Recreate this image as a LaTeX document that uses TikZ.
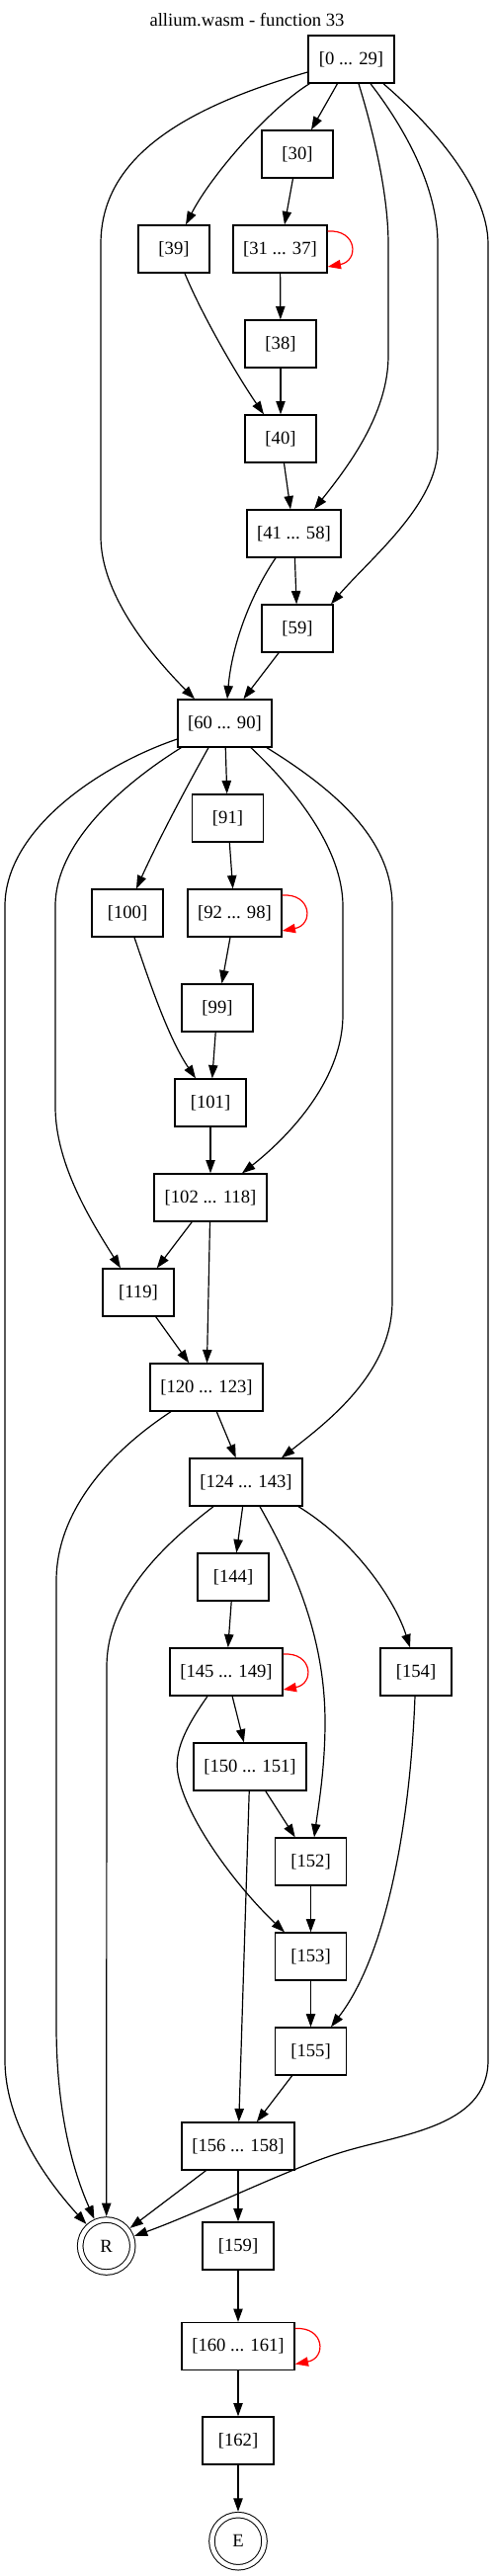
\documentclass[tikz,border=0pt]{standalone}
\usepackage{fontspec}
\setmainfont{Liberation Serif}
\usetikzlibrary{arrows.meta,calc}
\begin{document}
\begin{tikzpicture}[x=0.75pt,y=-0.75pt,
  lbl/.style={font=\fontsize{14}{16}\selectfont},
  box/.style={draw, line width=1pt, rectangle, inner sep=0pt, minimum height=36pt, lbl},
  wa/.style={minimum width=54pt},
  wb/.style={minimum width=71.25pt},
  wc/.style={minimum width=85.5pt},
  term/.style={circle, draw, line width=0.75pt, double, double distance=3.4pt, minimum size=39.8pt, inner sep=0pt, outer sep=2.6pt, lbl},
  conn/.style={draw, line width=0.9pt, -{Triangle[length=10pt,width=7pt]}},
  loopc/.style={draw=red, line width=0.9pt, -{Triangle[length=10pt,width=7pt,fill=red]}}]
\useasboundingbox (0,0) rectangle (500,2607);
\node[lbl] (title) at (250,20) {allium.wasm - function 33};
\node[box, minimum width=65.25pt] (n0) at (355.5,60) {[0 ... 29]};
\node[box,wa] (n30) at (301,156) {[30]};
\node[box,wa] (n39) at (176,252) {[39]};
\node[box,wb] (n31) at (283.5,252) {[31 ... 37]};
\node[box,wa] (n38) at (284,348) {[38]};
\node[box,wa] (n40) at (284,444) {[40]};
\node[box,wb] (n41) at (297.5,540) {[41 ... 58]};
\node[box,wa] (n59) at (301,636) {[59]};
\node[box,wb] (n60) at (227.5,732) {[60 ... 90]};
\node[box,wa] (n91) at (230.5,828) {[91]};
\node[box,wa] (n100) at (129,924) {[100]};
\node[box,wb] (n92) at (237.5,924) {[92 ... 98]};
\node[box,wa] (n99) at (220,1020) {[99]};
\node[box,wa] (n101) at (213,1116) {[101]};
\node[box,wc] (n102) at (213,1212) {[102 ... 118]};
\node[box,wa] (n119) at (140,1308) {[119]};
\node[box,wc] (n120) at (209,1404) {[120 ... 123]};
\node[box,wc] (n124) at (249,1500) {[124 ... 143]};
\node[box,wa] (n144) at (236,1596) {[144]};
\node[box,wc] (n145) at (229,1692) {[145 ... 149]};
\node[box,wa] (n154) at (421,1692) {[154]};
\node[box,wc] (n150) at (253,1788) {[150 ... 151]};
\node[box,wa] (n152) at (314.5,1884) {[152]};
\node[box,wa] (n153) at (314.5,1980) {[153]};
\node[box,wa] (n155) at (314.5,2076) {[155]};
\node[box,wc] (n156) at (241,2172) {[156 ... 158]};
\node[term] (R) at (107.7,2273) {R};
\node[box,wa] (n159) at (241,2273) {[159]};
\node[box,wc] (n160) at (241,2374.5) {[160 ... 161]};
\node[box,wa] (n162) at (241,2470) {[162]};
\node[term] (E) at (241,2571.7) {E};
% straight connectors
\draw[conn] (n0) -- (n30);
\draw[conn] (n30) -- (n31);
\draw[conn] (n31) -- (n38);
\draw[conn] (n38) -- (n40);
\draw[conn] (n40) -- (n41);
\draw[conn] (n41) -- (n59);
\draw[conn] (n59) -- (n60);
\draw[conn] (n60) -- (n91);
\draw[conn] (n91) -- (n92);
\draw[conn] (n92) -- (n99);
\draw[conn] (n99) -- (n101);
\draw[conn] (n101) -- (n102);
\draw[conn] (n102) -- (n119);
\draw[conn] (n102) -- (n120);
\draw[conn] (n119) -- (n120);
\draw[conn] (n120) -- (n124);
\draw[conn] (n124) -- (n144);
\draw[conn] (n144) -- (n145);
\draw[conn] (n145) -- (n150);
\draw[conn] (n150) -- (n152);
\draw[conn] (n150) -- (n156);
\draw[conn] (n152) -- (n153);
\draw[conn] (n153) -- (n155);
\draw[conn] (n155) -- (n156);
\draw[conn] (n156) -- (R);
\draw[conn] (n156) -- (n159);
\draw[conn] (n159) -- (n160);
\draw[conn] (n160) -- (n162);
\draw[conn] (n162) -- (E);
% curved connectors
\draw[conn] ($(n0.south west)+(2,0)$) .. controls (275,108) and (215,175) .. ($(n39.north)+(12,0)$);
\draw[conn] ($(n0.west)+(0,13)$) .. controls (175,112) and (102,165) .. (102,247) -- (102,543) .. controls (102,600) and (150,660) .. ($(n60.north)+(-30.5,0)$);
\draw[conn] ($(n0.south)+(7.5,0)$) .. controls (380,140) and (393,200) .. (393,247) -- (393,360) .. controls (393,420) and (350,475) .. ($(n41.north)+(20.5,0)$);
\draw[conn] ($(n0.south)+(19.5,0)$) .. controls (410,130) and (443,190) .. (443,247) -- (443,453) .. controls (443,510) and (375,565) .. ($(n59.north)+(34,0)$);
\draw[conn] ($(n0.south)+(32.5,0)$) .. controls (435,125) and (494,190) .. (494,247) -- (494,2085) .. controls (494,2155) and (400,2160) .. (340,2180) .. controls (290,2196) and (200,2240) .. (R);
\draw[conn] ($(n39.south)+(11,0)$) .. controls (205,320) and (240,380) .. ($(n40.north)+(-17,0)$);
\draw[conn] ($(n41.south)+(-18.5,0)$) .. controls (255,600) and (235,650) .. ($(n60.north)+(2.5,0)$);
\draw[conn] ($(n60.south)+(-16.5,0)$) .. controls (198,780) and (165,840) .. ($(n100.north)+(9,0)$);
\draw[conn] ($(n60.west)+(0,16)$) .. controls (100,775) and (5,840) .. (5,917) -- (5,2085) .. controls (5,2150) and (50,2210) .. (R);
\draw[conn] ($(n60.south west)+(4,0)$) .. controls (130,790) and (56,850) .. (56,917) -- (56,1120) .. controls (56,1180) and (95,1240) .. ($(n119.north)+(-18,0)$);
\draw[conn] ($(n60.south)+(26.5,0)$) .. controls (300,800) and (347,860) .. (347,917) -- (347,1027) .. controls (347,1100) and (280,1160) .. ($(n102.north)+(32,0)$);
\draw[conn] ($(n60.south)+(42.5,0)$) .. controls (340,800) and (397,850) .. (397,917) -- (397,1317) .. controls (397,1390) and (330,1440) .. ($(n124.north)+(36,0)$);
\draw[conn] ($(n100.south)+(7,0)$) .. controls (150,990) and (170,1050) .. ($(n101.north)+(-15,0)$);
\draw[conn] ($(n120.south)+(-36,0)$) .. controls (110,1470) and (57,1530) .. (57,1600) -- (57,2050) .. controls (57,2140) and (75,2200) .. (R);
\draw[conn] ($(n124.south)+(-33,0)$) .. controls (170,1560) and (108,1615) .. (108,1687) -- (R);
\draw[conn] ($(n124.south)+(14,0)$) .. controls (300,1590) and (329,1660) .. (329,1743) .. controls (329,1790) and (322,1830) .. ($(n152.north)+(3.5,0)$);
\draw[conn] ($(n124.south)+(53,0)$) .. controls (360,1560) and (400,1620) .. ($(n154.north)+(-6,0)$);
\draw[conn] ($(n145.south)+(-19,0)$) .. controls (188,1748) and (176,1772) .. (180,1795) .. controls (188,1841) and (240,1910) .. ($(n153.north)+(-26.5,0)$);
\draw[conn] ($(n154.south)+(-1,0)$) .. controls (415,1850) and (390,1980) .. ($(n155.north)+(20.5,0)$);
% self loops
\draw[loopc] ($(n31.east)+(0,-18)$) .. controls +(30,-2) and +(32,-6) .. ($(n31.east)+(0,18)$);
\draw[loopc] ($(n92.east)+(0,-18)$) .. controls +(30,-2) and +(32,-6) .. ($(n92.east)+(0,18)$);
\draw[loopc] ($(n145.east)+(0,-18)$) .. controls +(30,-2) and +(32,-6) .. ($(n145.east)+(0,18)$);
\draw[loopc] ($(n160.east)+(0,-18)$) .. controls +(30,-2) and +(32,-6) .. ($(n160.east)+(0,18)$);
\end{tikzpicture}
\end{document}
